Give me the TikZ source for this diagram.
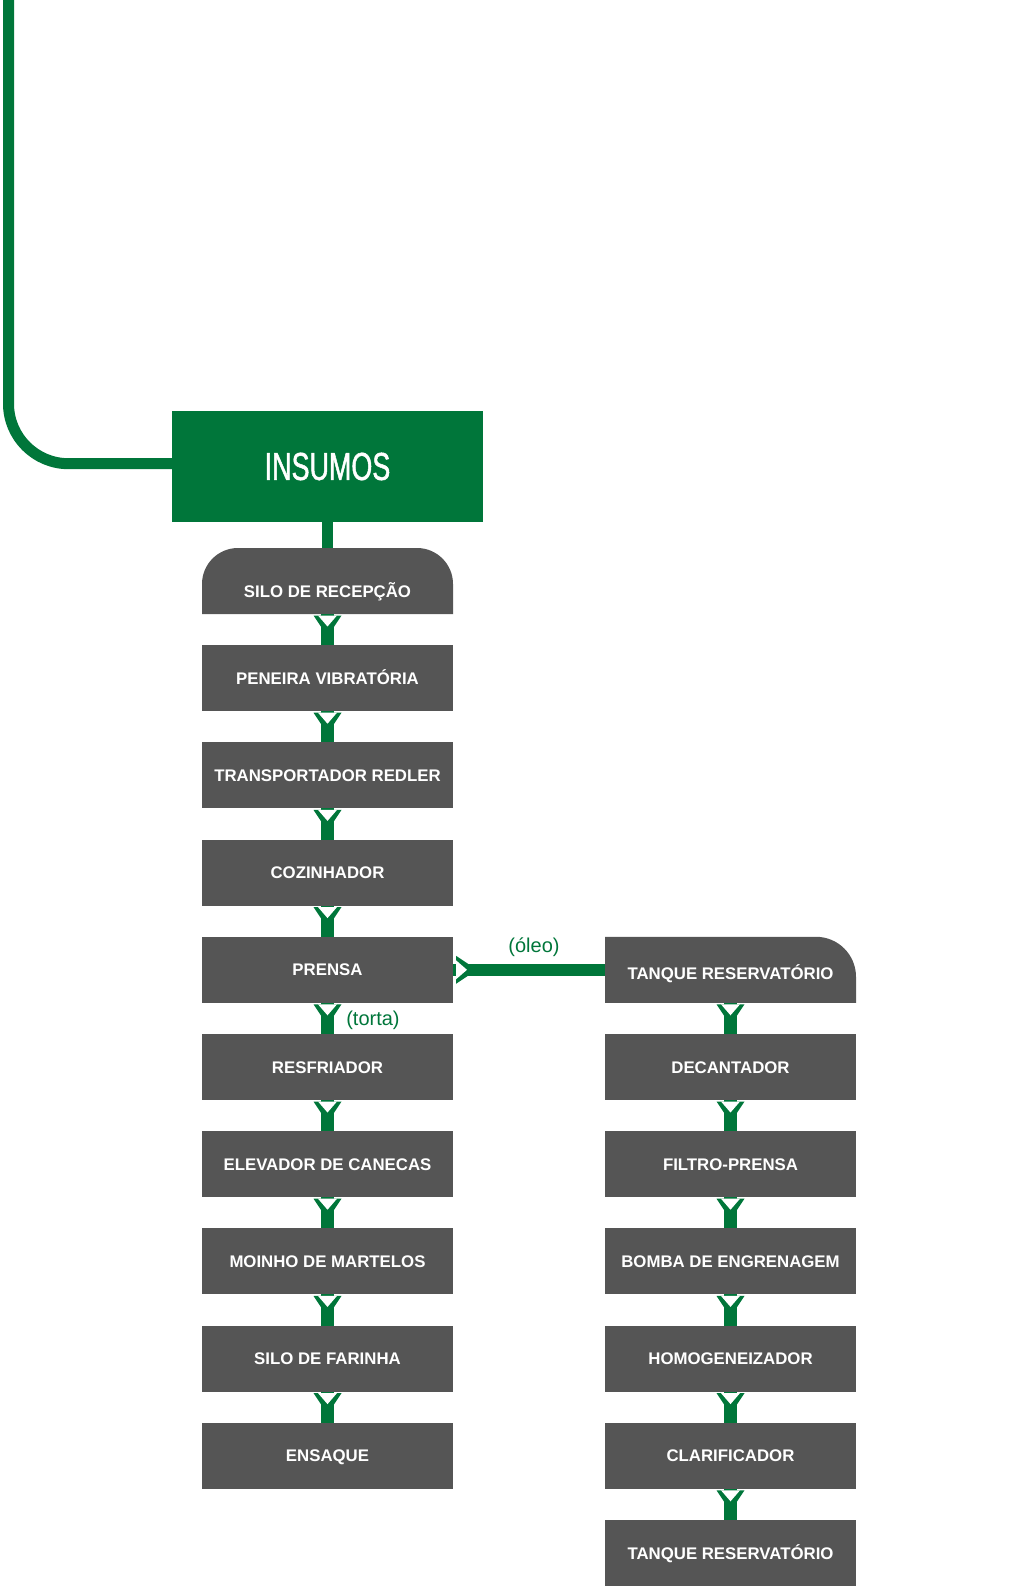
\documentclass[tikz,border=0pt]{standalone}
\usepackage{fontspec}
\setmainfont{Liberation Sans}
\newfontfamily\condfont[FakeStretch=0.69, FakeBold=1.2]{Liberation Sans}
\usepackage{xcolor}
\usetikzlibrary{positioning, backgrounds}
\definecolor{grn}{RGB}{0,118,58}
\definecolor{gry}{RGB}{85,85,85}

\begin{document}
\begin{tikzpicture}[
    x=0.5pt, y=0.5pt,
    box/.style={fill=gry, text=white, font=\fontsize{8.4}{10}\selectfont\bfseries, minimum width=125.5pt, minimum height=33pt, inner sep=0pt, outer sep=0pt, text height=6pt, text depth=0pt},
    topbox/.style={box, fill=none},
    flow/.style={draw=grn, line width=6.25pt},
    lbl/.style={text=grn, font=\fontsize{10}{12}\selectfont, inner sep=0pt},
    chev/.pic={\fill[grn] (-14,0) -- (0,-21) -- (14,0) -- cycle;
               \fill[white] (-9.5,0) -- (0,-11) -- (9.5,0) -- cycle;},
  ]
  \useasboundingbox (0,0) rectangle (1024,-1588);
  \node[fill=grn, text=white, font=\condfont\fontsize{19.5}{22}\selectfont, minimum width=155.5pt, minimum height=55.5pt, inner sep=0pt, outer sep=0pt] (ins) at (327.5,-466.5) {INSUMOS};
  % linha de producao do farelo
  \node[topbox, text height=16.5pt, below=13pt of ins] (silo) {SILO DE RECEPÇÃO};
  \node[box, below=15.6pt of silo] (peneira) {PENEIRA VIBRATÓRIA};
  \node[box, below=15.6pt of peneira] (redler) {TRANSPORTADOR REDLER};
  \node[box, below=15.6pt of redler] (cozinhador) {COZINHADOR};
  \node[box, below=15.6pt of cozinhador] (prensa) {PRENSA};
  \node[box, below=15.6pt of prensa] (resfriador) {RESFRIADOR};
  \node[box, below=15.6pt of resfriador] (elevador) {ELEVADOR DE CANECAS};
  \node[box, below=15.6pt of elevador] (moinho) {MOINHO DE MARTELOS};
  \node[box, below=15.6pt of moinho] (silofar) {SILO DE FARINHA};
  \node[box, below=15.6pt of silofar] (ensaque) {ENSAQUE};
  % linha do oleo
  \node[topbox, text height=9.5pt, right=76pt of prensa] (tanque) {TANQUE RESERVATÓRIO};
  \node[box, below=15.6pt of tanque] (decantador) {DECANTADOR};
  \node[box, below=15.6pt of decantador] (filtro) {FILTRO-PRENSA};
  \node[box, below=15.6pt of filtro] (bomba) {BOMBA DE ENGRENAGEM};
  \node[box, below=15.6pt of bomba] (homog) {HOMOGENEIZADOR};
  \node[box, below=15.6pt of homog] (clarif) {CLARIFICADOR};
  \node[box, below=15.6pt of clarif] (tanquefim) {TANQUE RESERVATÓRIO};
  \begin{scope}[on background layer]
    \fill[gry] (silo.south west) -- ([yshift=-18pt]silo.north west) arc[start angle=180, end angle=90, radius=18pt]
      -- ([xshift=-18pt]silo.north east) arc[start angle=90, end angle=0, radius=18pt] -- (silo.south east) -- cycle;
    \fill[gry] (tanque.south west) -- (tanque.north west) -- ([xshift=-20pt]tanque.north east)
      arc[start angle=90, end angle=0, radius=20pt] -- (tanque.south east) -- cycle;
  \end{scope}
  \coordinate (entrada) at (8.5,5);
  \draw[flow, line width=5.5pt, rounded corners=30pt] (entrada) |- ([yshift=1.4pt]ins.west);
  \draw[flow, line width=5.5pt] (ins) -- (silo);
  \foreach \a/\b in {silo/peneira, peneira/redler, redler/cozinhador, cozinhador/prensa, prensa/resfriador,
      resfriador/elevador, elevador/moinho, moinho/silofar, silofar/ensaque,
      tanque/decantador, decantador/filtro, filtro/bomba, bomba/homog, homog/clarif, clarif/tanquefim} {
    \draw[flow] (\a) -- (\b);
    \pic at ([yshift=-0.75pt]\a.south) {chev};
  }
  \draw[flow] (prensa) -- (tanque);
  \pic[rotate=90] at ([xshift=1.5pt]prensa.east) {chev};
  \node[lbl] (oleo) at ([xshift=40.5pt, yshift=11.5pt]prensa.east) {(óleo)};
  \node[lbl, anchor=west] (torta) at ([xshift=9.2pt, yshift=-9pt]prensa.south) {(torta)};
\end{tikzpicture}
\end{document}
